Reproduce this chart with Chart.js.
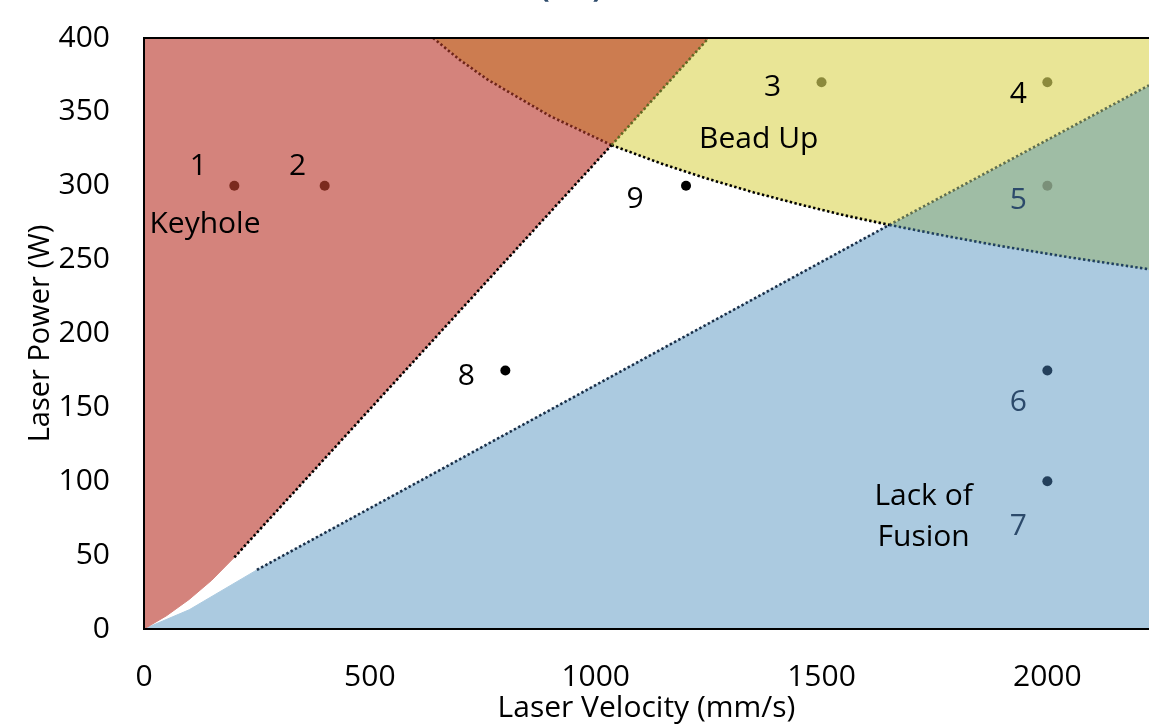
<!DOCTYPE html>
<html>
<head>
<meta charset="utf-8">
<title>Process map - Laser Power vs Laser Velocity</title>
<script src="https://cdn.jsdelivr.net/npm/chart.js@4.4.0/dist/chart.umd.min.js"></script>
<style>
    html, body { margin: 0; padding: 0; background: #fff; }
    #wrap { width: 1149px; height: 724px; overflow: hidden; }
</style>
</head>
<body>
<div id="wrap"><canvas id="processMap" width="1149" height="724"></canvas></div>
<script>
// ==================== DATA ====================
const xTicks = [0, 500, 1000, 1500, 2000];
const yTicks = [0, 50, 100, 150, 200, 250, 300, 350, 400];
const xMax = 2225;
const yMax = 400;

// measured builds
const pointIds = ['1', '2', '3', '4', '5', '6', '7', '8', '9'];
const velocity = [200, 400, 1500, 2000, 2000, 2000, 2000, 800, 1200];
const power    = [300, 300, 370, 370, 300, 175, 100, 175, 300];

// keyhole boundary (from origin upward)
const keyholeV = [0, 50, 100, 150, 200, 1035, 1250];
const keyholeP = [0, 9, 20, 33, 48.5, 327.5, 400];

// bead up boundary (left to right)
const beadV = [640, 700, 760, 810, 900, 1035, 1150, 1250, 1350, 1450, 1550, 1650, 1775, 1900, 2050, 2225];
const beadP = [400, 385, 372, 363, 347, 327.5, 314.5, 304.5, 295.5, 287.5, 280, 273.5, 266, 259, 251.5, 243.5];

// lack of fusion boundary (from origin upward)
const lofV = [0, 100, 250, 1650, 2225];
const lofP = [0, 13, 40, 273.5, 368];

// region names
const regionNames = [['Keyhole'], ['Bead Up'], ['Lack of', 'Fusion']];
const regionV = [135, 1361, 1726];
const regionP = [274, 331, 75.5];

// ==================== STYLE ====================
const FONT = "'Open Sans', 'DejaVu Sans', sans-serif";
const pointColors  = ['#7b2a1e', '#7b2a1e', '#8c8a3c', '#8c8a3c', '#7a9079', '#24405c', '#24405c', '#000000', '#000000'];
const labelColors  = ['#000', '#000', '#000', '#000', '#2c4a6b', '#2c4a6b', '#2c4a6b', '#000', '#000'];
const labelOffsets = [[-36, -19], [-27, -19], [-49, 5], [-29, 12], [-29, 15], [-29, 32], [-29, 45], [-39, 6], [-51, 14]];

const pts = (vs, ps) => vs.map((v, i) => ({ x: v, y: ps[i] }));

const K = pts(keyholeV, keyholeP);
const B = pts(beadV, beadP);
const L = pts(lofV, lofP);

// junctions: keyhole/bead up, bead up/lack of fusion
const kEnd = K.length - 1, kJ = K.length - 2;
const bK = beadV.indexOf(keyholeV[kJ]);
const bL = beadV.indexOf(lofV[3]);

const redPoly    = [...K.slice(0, kJ + 1), ...B.slice(0, bK).reverse(), { x: 0, y: yMax }, K[0]];
const orangePoly = [...B.slice(0, bK + 1), K[kEnd], B[0]];
const yellowPoly = [B[bK], K[kEnd], { x: xMax, y: yMax }, L[4], ...B.slice(bK, bL + 1).reverse()];
const greenPoly  = [B[bL], L[4], ...B.slice(bL).reverse()];
const bluePoly   = [...L.slice(0, 4), ...B.slice(bL + 1), { x: xMax, y: 0 }, L[0]];

function region(data, color) {
    return {
        data, showLine: true, fill: 'shape', tension: 0,
        backgroundColor: color, borderColor: color, borderWidth: 1,
        pointRadius: 0, order: 3
    };
}

function dotted(data, color) {
    return {
        data, showLine: true, fill: false, tension: 0,
        borderColor: color, borderWidth: 2.6, borderDash: [2.4, 2.4],
        pointRadius: 0, order: 2
    };
}

// ==================== PLUGINS ====================
const textPlugin = {
    id: 'mapText',
    afterDraw(chart) {
        const { ctx, chartArea } = chart;
        const xs = chart.scales.x, ys = chart.scales.y;
        ctx.save();

        // frame top line
        ctx.strokeStyle = '#000';
        ctx.lineWidth = 2;
        ctx.beginPath();
        ctx.moveTo(chartArea.left, chartArea.top);
        ctx.lineTo(chartArea.right, chartArea.top);
        ctx.stroke();

        ctx.textAlign = 'center';
        ctx.textBaseline = 'middle';

        // point numbers
        ctx.font = `30px ${FONT}`;
        pointIds.forEach((id, i) => {
            const px = xs.getPixelForValue(velocity[i]) + labelOffsets[i][0];
            const py = ys.getPixelForValue(power[i]) + labelOffsets[i][1];
            ctx.fillStyle = labelColors[i];
            ctx.fillText(id, px, py);
        });

        // region names
        ctx.fillStyle = '#000';
        ctx.font = `30px ${FONT}`;
        regionNames.forEach((lines, i) => {
            const px = xs.getPixelForValue(regionV[i]);
            const py = ys.getPixelForValue(regionP[i]);
            lines.forEach((t, j) => {
                ctx.fillText(t, px, py + (j - (lines.length - 1) / 2) * 41);
            });
        });

        // panel tag, cut by the top edge
        ctx.fillStyle = '#2c4a6b';
        ctx.font = `600 36px ${FONT}`;
        ctx.textBaseline = 'alphabetic';
        ctx.letterSpacing = '10px';
        ctx.fillText('(b)', 576, -4);
        ctx.restore();
    }
};

// ==================== CHART ====================
Chart.defaults.font.family = FONT;
Chart.defaults.color = '#000';

const datasets = [
    {
        data: pts(velocity, power), showLine: false,
        pointRadius: 5, pointBackgroundColor: pointColors, pointBorderWidth: 0, order: 0
    },
    dotted(K.slice(kJ - 1, kJ + 1), '#000000'),
    dotted(K.slice(kJ, kEnd + 1), '#5f6a22'),
    dotted(B.slice(0, bK + 1), '#6e2418'),
    dotted(B.slice(bK, bL + 1), '#000000'),
    dotted(B.slice(bL), '#1f3f60'),
    dotted(L.slice(2, 4), '#1a2f48'),
    dotted(L.slice(3, 5), '#5e6e50'),
    region(redPoly, '#d4837c'),
    region(orangePoly, '#cc7c50'),
    region(yellowPoly, '#e9e596'),
    region(greenPoly, '#9fbda5'),
    region(bluePoly, '#abcae0')
];

new Chart(document.getElementById('processMap'), {
    type: 'scatter',
    data: { datasets },
    options: {
        responsive: false,
        animation: false,
        events: [],
        layout: { autoPadding: false, padding: { top: 38, right: 0, bottom: 0, left: 0 } },
        plugins: { legend: { display: false }, tooltip: { enabled: false } },
        scales: {
            x: {
                type: 'linear', min: 0, max: xMax,
                afterBuildTicks: s => { s.ticks = xTicks.map(v => ({ value: v })); },
                afterFit: s => { s.height = 95; s.paddingLeft = 0; s.paddingRight = 0; },
                ticks: { padding: 30, font: { size: 30 }, callback: v => String(v) },
                grid: { display: false, drawTicks: false },
                border: { display: true, color: '#000', width: 2, z: 1 },
                title: { display: true, text: 'Laser Velocity (mm/s)', font: { size: 30 }, padding: { top: 0, bottom: -2 } }
            },
            y: {
                type: 'linear', min: 0, max: yMax,
                afterBuildTicks: s => { s.ticks = yTicks.map(v => ({ value: v })); },
                afterFit: s => { s.width = 144; s.paddingTop = 0; s.paddingBottom = 0; },
                ticks: { padding: 34, font: { size: 30 }, callback: v => String(v) },
                grid: { display: false, drawTicks: false },
                border: { display: true, color: '#000', width: 2, z: 1 },
                title: { display: true, text: 'Laser Power (W)', font: { size: 29 }, padding: { top: 23, bottom: 0 } }
            }
        }
    },
    plugins: [textPlugin]
});
</script>
</body>
</html>
